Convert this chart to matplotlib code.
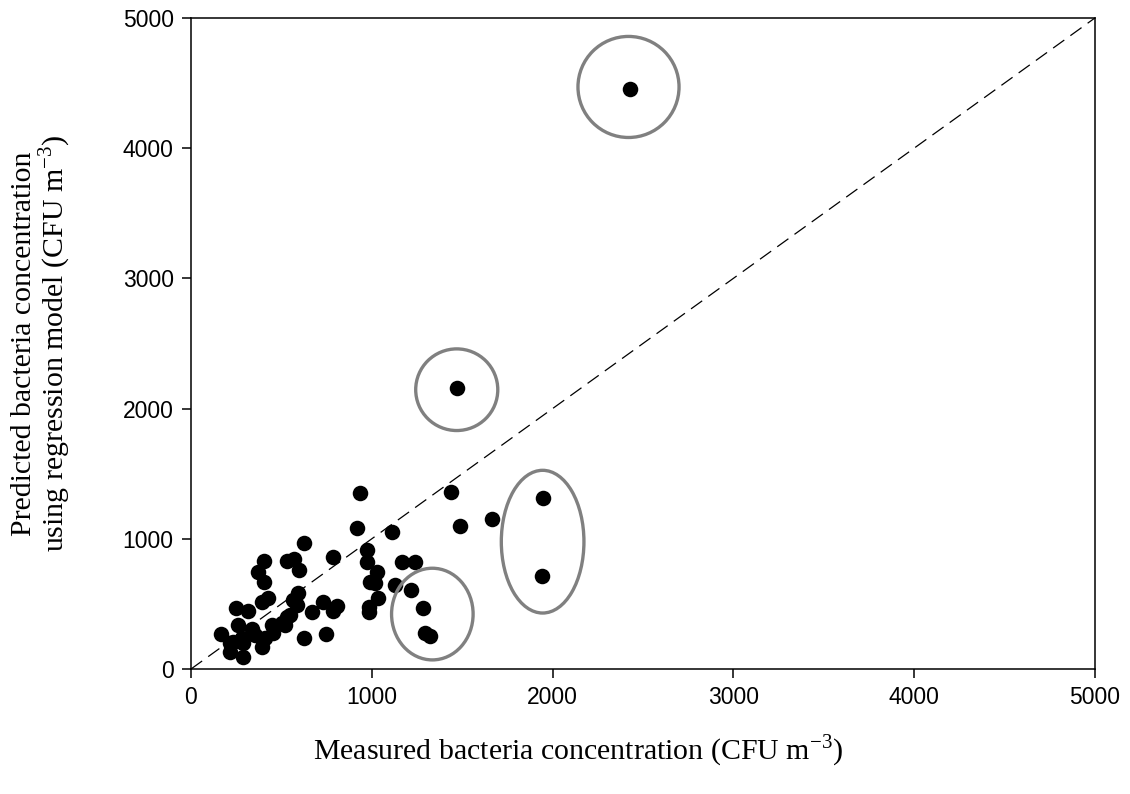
import matplotlib
matplotlib.use("Agg")
import matplotlib.pyplot as plt
from matplotlib.patches import Ellipse

plt.rcParams['mathtext.fontset'] = 'custom'
plt.rcParams['mathtext.rm'] = 'Liberation Serif'
plt.rcParams['axes.unicode_minus'] = False

measured = [935, 916, 1114, 625, 784, 405, 529, 572, 972, 369, 599, 975, 1167, 1239,
            405, 1027, 990, 1018, 1128, 1215, 1036, 594, 424, 391, 247, 317, 566, 584,
            667, 728, 806, 784, 986, 985, 1285, 258, 336, 166, 446, 502, 529, 625, 745,
            1294, 1322, 216, 280, 391, 286, 216, 455, 354, 234, 289, 409, 520, 547,
            1436, 1488, 1667, 1949, 1940, 1470, 2428]
predicted = [1354, 1085, 1055, 965, 863, 832, 832, 845, 914, 747, 760, 824, 819, 824,
             670, 747, 670, 658, 645, 607, 543, 581, 543, 517, 471, 445, 530, 492,
             440, 517, 484, 445, 479, 440, 471, 338, 305, 266, 338, 351, 402, 240, 269,
             274, 253, 197, 236, 171, 94, 133, 274, 261, 210, 197, 236, 338, 415,
             1362, 1098, 1152, 1311, 714, 2160, 4452]

# highlighted groups: (center x, center y, width, height) in data units
hl_cx = [2420, 1470, 1335, 1945]
hl_cy = [4470, 2145, 422, 978]
hl_w = [559, 454, 451, 457]
hl_h = [776, 627, 704, 1096]

xticks = [0, 1000, 2000, 3000, 4000, 5000]
yticks = [0, 1000, 2000, 3000, 4000, 5000]

fig = plt.figure(figsize=(11.3, 7.94), dpi=100)
ax = fig.add_axes([0.169, 0.1574, 0.8, 0.82])

ax.plot([0, 5000], [0, 5000], color='black', lw=0.9, dashes=(11, 6))
ax.scatter(measured, predicted, s=125, color='black', zorder=3, linewidths=0)
for cx, cy, w, h in zip(hl_cx, hl_cy, hl_w, hl_h):
    ax.add_patch(Ellipse((cx, cy), w, h, fill=False, edgecolor='#808080', lw=2.4, zorder=4))

ax.set_xlim(0, 5000)
ax.set_ylim(0, 5000)
ax.set_xticks(xticks)
ax.set_yticks(yticks)
ax.tick_params(direction='out', length=6.5, width=1.1, labelsize=16.5, pad=6,
               top=False, right=False)
for lab in ax.get_xticklabels() + ax.get_yticklabels():
    lab.set_family('Liberation Sans')
for sp in ax.spines.values():
    sp.set_linewidth(1.1)

ax.set_xlabel('Measured bacteria concentration (CFU m$^{\\mathregular{-3}}$)',
              family='Liberation Serif', fontsize=21.5)
ax.xaxis.set_label_coords(0.428, -0.098)
ax.set_ylabel('Predicted bacteria concentration\nusing regression model (CFU m$^{\\mathregular{-3}}$)',
              family='Liberation Serif', fontsize=21.5, linespacing=1.0)
ax.yaxis.set_label_coords(-0.13, 0.5)

fig.savefig('out.png', dpi=100)
